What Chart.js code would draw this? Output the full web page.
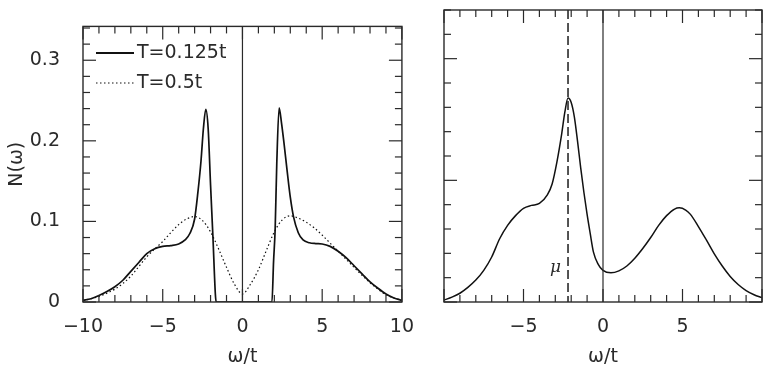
<!DOCTYPE html>
<html><head><meta charset="utf-8">
<script src="https://cdn.jsdelivr.net/npm/chart.js@4"></script>
<style>
html,body{margin:0;padding:0;background:#fff;width:763px;height:372px;overflow:hidden}
#c1{position:absolute;left:0;top:0}
#c2{position:absolute;left:420px;top:0}
</style></head><body>
<canvas id="c1" width="420" height="372"></canvas>
<canvas id="c2" width="343" height="372"></canvas>
<script>
// ---- data ----
const omegaLowT = [-10,-9.5,-9,-8.5,-8,-7.5,-7,-6.5,-6,-5.5,-5,-4.5,-4,-3.6,-3.3,-3.0,-2.8,-2.6,-2.45,-2.3,-2.15,-2.0,-1.85,-1.7,-1.65,0,1.85,1.95,2.05,2.15,2.3,2.45,2.6,2.8,3.0,3.2,3.5,3.8,4.2,4.6,5.0,5.5,6.0,6.5,7.0,7.5,8.0,8.5,9.0,9.5,10];
const nLowT = [0.002,0.004,0.008,0.013,0.019,0.027,0.038,0.049,0.060,0.066,0.069,0.070,0.072,0.077,0.085,0.103,0.135,0.175,0.215,0.239,0.215,0.145,0.080,0.010,0,0,0,0.050,0.090,0.170,0.241,0.222,0.198,0.163,0.130,0.106,0.086,0.077,0.0735,0.0725,0.072,0.069,0.063,0.055,0.045,0.035,0.025,0.017,0.010,0.005,0.002];
const omegaHighT = [-10,-9.5,-9,-8.5,-8,-7.5,-7,-6.5,-6,-5.5,-5,-4.5,-4,-3.5,-3,-2.5,-2,-1.5,-1,-0.5,0,0.5,1,1.5,2,2.5,3,3.5,4,4.5,5,5.5,6,6.5,7,7.5,8,8.5,9,9.5,10];
const nHighT = [0.002,0.004,0.007,0.011,0.016,0.023,0.032,0.044,0.056,0.066,0.075,0.086,0.096,0.103,0.106,0.101,0.087,0.066,0.043,0.022,0.010,0.022,0.040,0.064,0.087,0.102,0.107,0.104,0.099,0.092,0.083,0.073,0.063,0.053,0.043,0.033,0.024,0.016,0.009,0.005,0.002];
const omegaRight = [-10,-9.5,-9,-8.5,-8,-7.5,-7,-6.5,-6,-5.5,-5,-4.5,-4,-3.5,-3.2,-2.9,-2.6,-2.4,-2.2,-2.0,-1.8,-1.6,-1.4,-1.2,-1.0,-0.8,-0.6,-0.3,0,0.5,1,1.5,2,2.5,3,3.5,4,4.5,4.8,5.2,5.5,6,6.5,7,7.5,8,8.5,9,9.5,10];
const nRight = [0.08,0.2,0.36,0.6,0.9,1.3,1.85,2.6,3.15,3.55,3.85,3.97,4.05,4.4,4.85,5.75,6.9,7.8,8.38,8.2,7.6,6.6,5.5,4.5,3.6,2.8,2.05,1.55,1.3,1.2,1.28,1.48,1.8,2.2,2.65,3.15,3.55,3.82,3.87,3.78,3.6,3.1,2.55,1.98,1.48,1.05,0.72,0.47,0.3,0.18];
const leftXTicks = [-10,-5,0,5,10];
const rightXTicks = [-5,0,5];
const leftYTicks = [0,0.1,0.2,0.3];
const seriesLabels = ['T=0.125t','T=0.5t'];
const muOmega = -2.2;
const muLabel = 'μ';
const xTitle = 'ω/t';
const yTitle = 'N(ω)';

// ---- styling ----
const INK = '#2a2a2a';
const FONT = {family:'"DejaVu Sans", sans-serif', size:19};
const fmt = v => (v < 0 ? '\u2212' + Math.abs(v) : String(v));

function line(ctx,x1,y1,x2,y2){ctx.beginPath();ctx.moveTo(x1,y1);ctx.lineTo(x2,y2);ctx.stroke();}

function framePlugin(cfg){
  return {
    id:'frame',
    afterDatasetsDraw(chart){
      const {ctx, chartArea:a, scales:{x,y}} = chart;
      ctx.save();
      ctx.strokeStyle = INK; ctx.lineWidth = 1.4; ctx.setLineDash([]);
      ctx.strokeRect(a.left, a.top, a.right-a.left, a.bottom-a.top);
      ctx.lineWidth = 1.2;
      const nx = Math.round((x.max - x.min)/cfg.xMinor);
      for (let i=0;i<=nx;i++){
        const v = x.min + i*cfg.xMinor;
        const major = Math.abs(v/cfg.xMajor - Math.round(v/cfg.xMajor)) < 1e-6;
        const L = major ? 13 : 7;
        const px = x.getPixelForValue(v);
        line(ctx,px,a.bottom,px,a.bottom-L);
        line(ctx,px,a.top,px,a.top+L);
      }
      const ny = Math.floor((y.max - y.min)/cfg.yMinor + 1e-6);
      for (let i=0;i<=ny;i++){
        const v = y.min + i*cfg.yMinor;
        const major = Math.abs(v/cfg.yMajor - Math.round(v/cfg.yMajor)) < 1e-6;
        const L = major ? 13 : 7;
        const py = y.getPixelForValue(v);
        line(ctx,a.left,py,a.left+L,py);
        line(ctx,a.right,py,a.right-L,py);
      }
      // vertical line at omega = 0
      const x0 = x.getPixelForValue(0);
      ctx.lineWidth = 1.2;
      line(ctx,x0,a.top,x0,a.bottom);
      if (cfg.mu !== undefined){
        const xm = x.getPixelForValue(cfg.mu);
        ctx.lineWidth = 1.6; ctx.setLineDash([9,4]);
        line(ctx,xm,a.top,xm,a.bottom);
        ctx.setLineDash([]);
        ctx.fillStyle = INK;
        ctx.font = 'italic 17px "DejaVu Serif", serif';
        ctx.textAlign = 'right'; ctx.textBaseline = 'middle';
        ctx.fillText(muLabel, xm-7, 268);
      }
      if (cfg.legend){
        ctx.fillStyle = INK; ctx.strokeStyle = '#111';
        ctx.font = '19px "DejaVu Sans", sans-serif';
        ctx.textAlign = 'left'; ctx.textBaseline = 'middle';
        ctx.lineWidth = 1.8; ctx.setLineDash([]);
        line(ctx,96,53,134,53);
        ctx.fillText(seriesLabels[0], 137, 53);
        ctx.lineWidth = 1.2; ctx.setLineDash([1.5,2.5]);
        line(ctx,96,83,134,83);
        ctx.setLineDash([]);
        ctx.fillText(seriesLabels[1], 137, 83);
      }
      ctx.restore();
    }
  };
}

function pts(xs, ys){ return xs.map((v,i)=>({x:v, y:ys[i]})); }

const baseOptions = {
  responsive:false, animation:false, devicePixelRatio:1,
  plugins:{legend:{display:false}, tooltip:{enabled:false}},
  elements:{point:{radius:0}, line:{tension:0.4, cubicInterpolationMode:'monotone'}}
};

new Chart(document.getElementById('c1'), {
  type:'scatter',
  data:{datasets:[
    {label:seriesLabels[0], data:pts(omegaLowT,nLowT), showLine:true, borderColor:'#111', borderWidth:1.7, pointRadius:0, cubicInterpolationMode:'monotone'},
    {label:seriesLabels[1], data:pts(omegaHighT,nHighT), showLine:true, borderColor:'#111', borderWidth:1.2, borderDash:[1.5,2.5], pointRadius:0, cubicInterpolationMode:'monotone'}
  ]},
  options:{
    ...baseOptions,
    layout:{padding:{left:0,right:18,top:13,bottom:0}},
    scales:{
      x:{type:'linear', min:-10, max:10,
        afterFit:s=>{s.height=70;},
        afterBuildTicks:s=>{s.ticks = leftXTicks.map(v=>({value:v}));},
        grid:{display:false}, border:{display:false},
        ticks:{font:FONT, color:INK, padding:6, maxRotation:0, callback:v=>fmt(v)},
        title:{display:true, text:xTitle, font:FONT, color:INK, padding:{top:3,bottom:4}}
      },
      y:{type:'linear', min:0, max:0.342,
        afterFit:s=>{s.width=83;},
        afterBuildTicks:s=>{s.ticks = leftYTicks.map(v=>({value:v}));},
        grid:{display:false}, border:{display:false},
        ticks:{font:FONT, color:INK, padding:15, callback:v=>String(v)},
        title:{display:true, text:yTitle, font:FONT, color:INK, padding:{top:6,bottom:0}}
      }
    }
  },
  plugins:[framePlugin({xMinor:1,xMajor:5,yMinor:0.02,yMajor:0.1,legend:true})]
});

new Chart(document.getElementById('c2'), {
  type:'scatter',
  data:{datasets:[
    {label:'N', data:pts(omegaRight,nRight), showLine:true, borderColor:'#111', borderWidth:1.5, pointRadius:0, cubicInterpolationMode:'monotone'}
  ]},
  options:{
    ...baseOptions,
    layout:{padding:{left:0,right:1,top:10,bottom:0}},
    scales:{
      x:{type:'linear', min:-10, max:10,
        afterFit:s=>{s.height=70;},
        afterBuildTicks:s=>{s.ticks = rightXTicks.map(v=>({value:v}));},
        grid:{display:false}, border:{display:false},
        ticks:{font:FONT, color:INK, padding:6, maxRotation:0, callback:v=>fmt(v)},
        title:{display:true, text:xTitle, font:FONT, color:INK, padding:{top:3,bottom:4}}
      },
      y:{type:'linear', min:0, max:12,
        afterFit:s=>{s.width=24;},
        grid:{display:false}, border:{display:false},
        ticks:{display:false}
      }
    }
  },
  plugins:[framePlugin({xMinor:1,xMajor:5,yMinor:1,yMajor:5,mu:muOmega})]
});
</script>
</body></html>
